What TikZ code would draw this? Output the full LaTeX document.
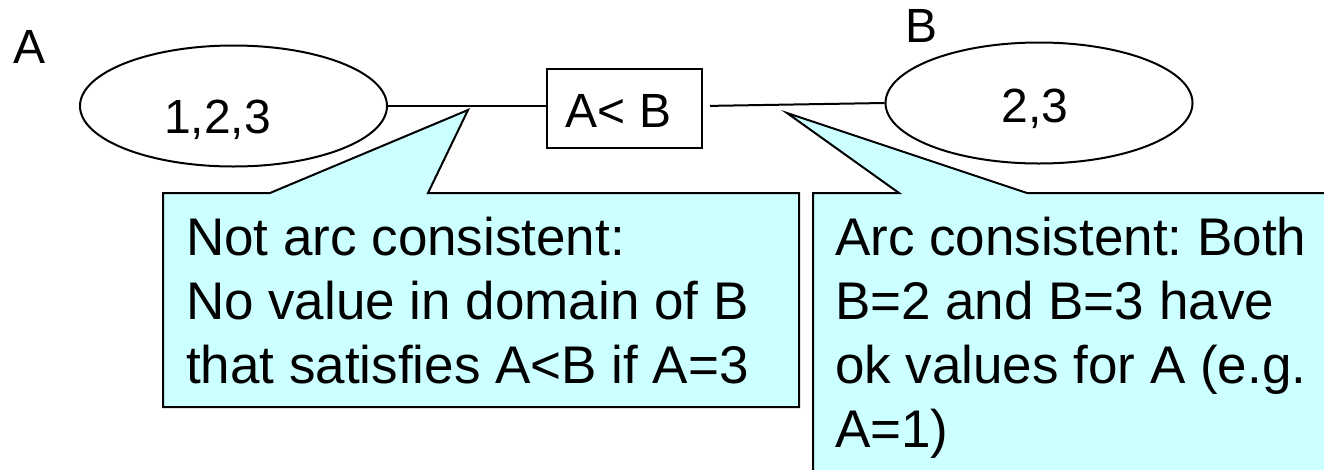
\documentclass[tikz,border=0pt]{standalone}
\usepackage{fontspec}
\setmainfont{Liberation Sans}
\usetikzlibrary{shapes.geometric}
\definecolor{callfill}{HTML}{CCFFFF}
\frenchspacing
\begin{document}
\begin{tikzpicture}[x=1pt,y=-1pt,line width=2pt,
  dom/.style={ellipse,draw,minimum width=307pt,minimum height=121pt,inner sep=0pt},
  cons/.style={rectangle,draw,minimum width=155pt,minimum height=79pt,inner sep=0pt},
  lbl/.style={font=\fontsize{48}{58}\selectfont,inner sep=0pt,anchor=base},
  callout/.style={fill=callfill,draw=black,line width=2pt,line join=miter},
  ctext/.style={font=\fontsize{53}{64}\selectfont\frenchspacing,inner sep=0pt,anchor=base west}]
\useasboundingbox (0,0) rectangle (1324,469);
\clip (0,0) rectangle (1324,469);
% callouts
\coordinate (tip1) at (468,110);
\coordinate (tip2) at (787,113);
\draw[callout] (163,193) -- (270,193) -- (tip1) -- (428,193) -- (799,193) -- (799,407) -- (163,407) -- cycle;
\draw[callout] (813,193) -- (899,193) -- (tip2) -- (1027,193) -- (1345,193) -- (1345,490) -- (813,490) -- cycle;
% domains and constraint
\node[dom] (dA) at (233.5,106) {};
\node[dom] (dB) at (1039,103) {};
\node[cons] (box) at (624.5,108.5) {};
\node[lbl] (vA) at (217.5,133) {1,2,3};
\node[lbl] (vB) at (1035,122) {2,3};
\node[lbl] (cT) at (618.5,127) {A< B};
\node[lbl] (lA) at (30,63) {A};
\node[lbl] (lB) at (921,42) {B};
% arcs
\draw (dA.east) -- (dA.east -| box.west);
\draw[shorten <=7pt] (dA.east -| box.east) -- (dB.west);
% callout texts
\node[ctext] (t1) at (185,255) {\vtop{\hbox{Not arc consistent:}\hbox{No value in domain of B}\hbox{that satisfies A<B if A=3}}};
\node[ctext] (t2) at (834,255) {\vtop{\hbox{Arc consistent: Both}\hbox{B=2 and B=3 have}\hbox{ok values for A (e.g.}\hbox{A=1)}}};
\end{tikzpicture}
\end{document}
